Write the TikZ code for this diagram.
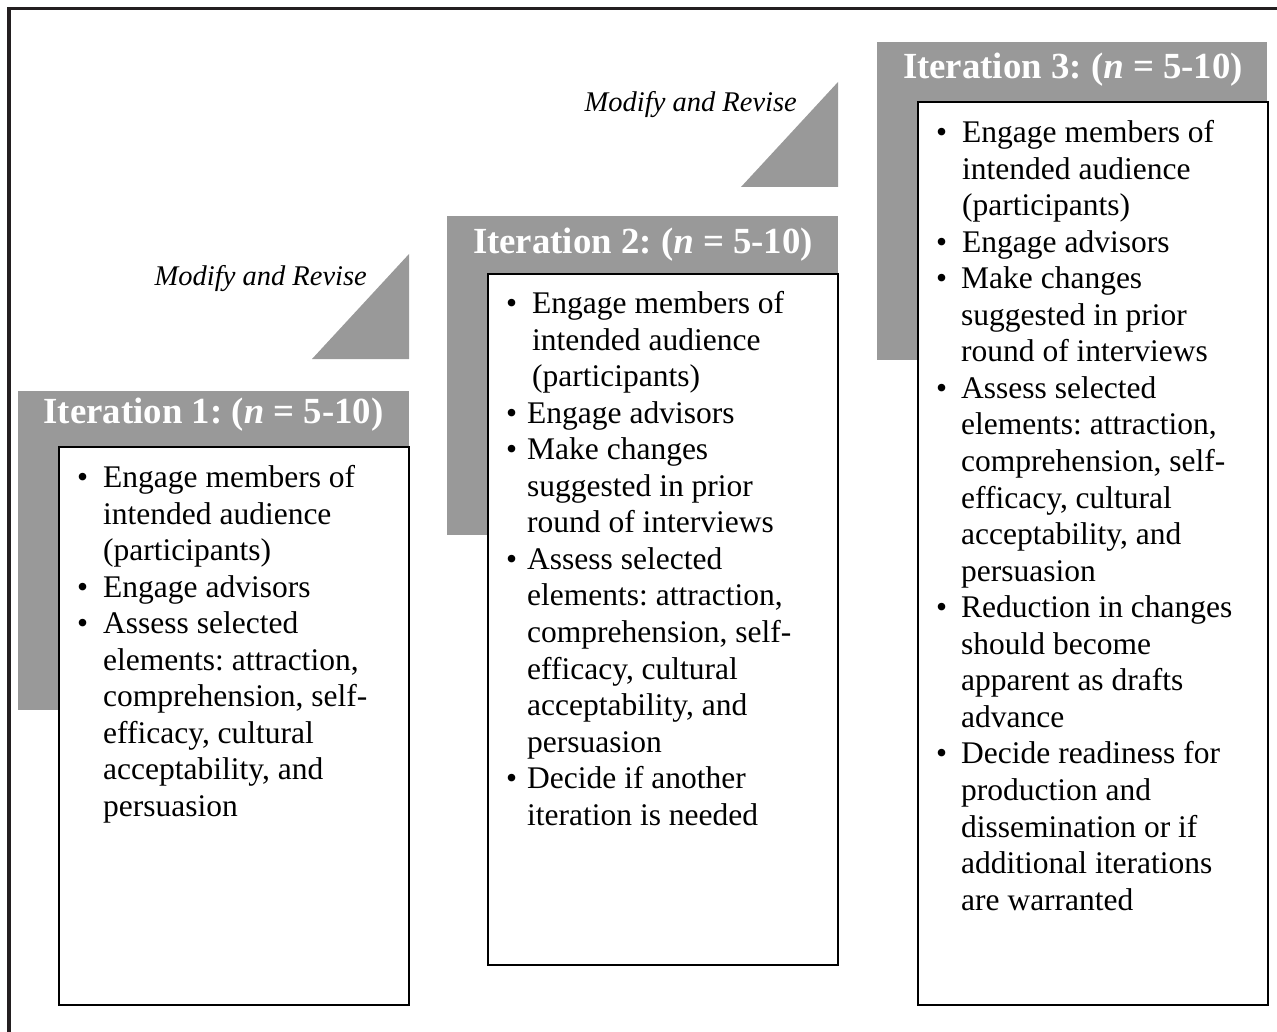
\documentclass[tikz,border=0pt]{standalone}
\usepackage{fontspec}
\setmainfont{Liberation Serif}
\frenchspacing
\definecolor{panelgray}{RGB}{153,153,153}
\definecolor{framegray}{RGB}{35,31,32}
\newcommand\bul[1]{\makebox[#1][l]{\textbullet}}
\newcommand\ind[1]{\hspace*{#1}}
\begin{document}
\begin{tikzpicture}[x=1pt,y=-1pt,
  panel/.style={fill=panelgray, draw=none},
  card/.style={fill=white, draw=black, line width=1.3pt},
  wedge/.style={fill=panelgray, draw=none},
  heading/.style={text=white, inner sep=0pt,
    font=\fontsize{36.8}{40}\selectfont\bfseries},
  itemtext/.style={anchor=north west, inner sep=0pt, align=left,
    font=\fontsize{31.5}{36.55}\selectfont},
  revise/.style={anchor=east, inner sep=0pt,
    font=\fontsize{28.5}{32}\selectfont\itshape}]
\useasboundingbox (0,0) rectangle (1277,1032);

% outer frame (top and left edges)
\draw[line width=3.2pt, framegray] (9,1032) -- (9,8.5) -- (1277,8.5);

% grey header panels
\path[panel] (18,391) rectangle (409,710);
\path[panel] (447,216) rectangle (838,535);
\path[panel] (877,42) rectangle (1267,360);

% step wedges between the stages
\path[wedge] (312,359) -- (409,359) -- (409,254) -- cycle;
\path[wedge] (741,187) -- (838,187) -- (838,82) -- cycle;

% headings
\node[heading] (h1) at (213.5,415) {Iteration 1: (\textit{n} = 5-10)};
\node[heading] (h2) at (643,245) {Iteration 2: (\textit{n} = 5-10)};
\node[heading] (h3) at (1073,70) {Iteration 3: (\textit{n} = 5-10)};

\node[revise] (r1) at (367,279) {Modify and Revise};
\node[revise] (r2) at (797,105) {Modify and Revise};

% white content cards
\draw[card] (59,447) rectangle (409,1005);
\draw[card] (488,274) rectangle (838,965);
\draw[card] (918,102) rectangle (1268,1005);

% card contents
\node[itemtext] (t1) at (77,461.8) {\strut
\bul{26pt}Engage members of\\
\ind{26pt}intended audience\\
\ind{26pt}(participants)\\
\bul{26pt}Engage advisors\\
\bul{26pt}Assess selected\\
\ind{26pt}elements: attraction,\\
\ind{26pt}comprehension, self-\\
\ind{26pt}efficacy, cultural\\
\ind{26pt}acceptability, and\\
\ind{26pt}persuasion};

\node[itemtext] (t2) at (506,287.8) {\strut
\bul{26pt}Engage members of\\
\ind{26pt}intended audience\\
\ind{26pt}(participants)\\
\bul{21pt}Engage advisors\\
\bul{21pt}Make changes\\
\ind{21pt}suggested in prior\\
\ind{21pt}round of interviews\\
\bul{21pt}Assess selected\\
\ind{21pt}elements: attraction,\\
\ind{21pt}comprehension, self-\\
\ind{21pt}efficacy, cultural\\
\ind{21pt}acceptability, and\\
\ind{21pt}persuasion\\
\bul{21pt}Decide if another\\
\ind{21pt}iteration is needed};

\node[itemtext] (t3) at (936,116.8) {\strut
\bul{26pt}Engage members of\\
\ind{26pt}intended audience\\
\ind{26pt}(participants)\\
\bul{26pt}Engage advisors\\
\bul{25pt}Make changes\\
\ind{25pt}suggested in prior\\
\ind{25pt}round of interviews\\
\bul{25pt}Assess selected\\
\ind{25pt}elements: attraction,\\
\ind{25pt}comprehension, self-\\
\ind{25pt}efficacy, cultural\\
\ind{25pt}acceptability, and\\
\ind{25pt}persuasion\\
\bul{25pt}Reduction in changes\\
\ind{25pt}should become\\
\ind{25pt}apparent as drafts\\
\ind{25pt}advance\\
\bul{25pt}Decide readiness for\\
\ind{25pt}production and\\
\ind{25pt}dissemination or if\\
\ind{25pt}additional iterations\\
\ind{25pt}are warranted};
\end{tikzpicture}
\end{document}
